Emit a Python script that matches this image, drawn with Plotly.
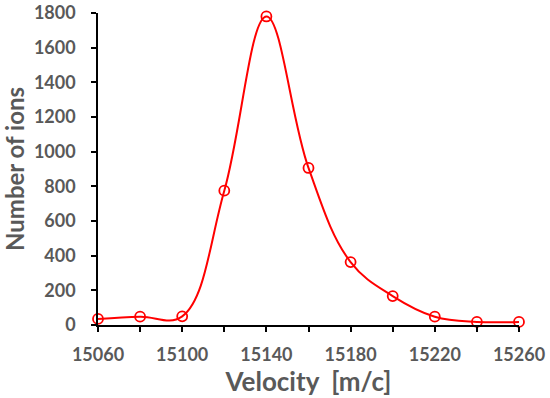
import plotly.graph_objects as go

velocity = [15060, 15080, 15100, 15120, 15140, 15160, 15180, 15200, 15220, 15240, 15260]
ions = [35, 48, 50, 775, 1780, 906, 363, 167, 48, 18, 18]

x_tickvals = list(range(15060, 15261, 20))
x_ticktext = [str(v) if (v - 15060) % 40 == 0 else "" for v in x_tickvals]
y_tickvals = list(range(0, 1801, 200))

grey = "#595959"
font_family = "Lato, 'Open Sans', sans-serif"

fig = go.Figure()
fig.add_trace(go.Scatter(
    x=velocity, y=ions, mode="lines+markers",
    line=dict(color="#FF0000", width=2, shape="spline", smoothing=1.1),
    marker=dict(symbol="circle-open", size=10, color="#FF0000", line=dict(width=1.8, color="#FF0000")),
    cliponaxis=False,
))

fig.update_layout(
    width=550, height=398,
    margin=dict(l=98, r=31, t=13, b=73),
    paper_bgcolor="white", plot_bgcolor="white",
    showlegend=False,
    font=dict(family=font_family, color=grey),
    xaxis=dict(
        range=[15060, 15260], tickvals=x_tickvals, ticktext=x_ticktext,
        showline=True, linecolor="black", linewidth=1.5,
        ticks="outside", ticklen=5, tickcolor="black", tickwidth=1.5,
        showgrid=False, zeroline=False, automargin=False,
        ticklabelstandoff=8,
        tickfont=dict(size=18, family=font_family, color=grey, weight="bold"),
        title=dict(text="<b>Velocity  [m/c]</b>", font=dict(size=26, color=grey, family=font_family), standoff=4),
    ),
    yaxis=dict(
        range=[0, 1800], tickvals=y_tickvals,
        showline=True, linecolor="black", linewidth=1.5,
        ticks="outside", ticklen=5, tickcolor="black", tickwidth=1.5,
        showgrid=False, zeroline=False, automargin=False,
        ticklabelstandoff=12,
        tickfont=dict(size=18, family=font_family, color=grey, weight="bold"),
        title=dict(text="<b>Number of ions</b>", font=dict(size=24, color=grey, family=font_family), standoff=8),
    ),
)

fig.write_html("out.html", config={"displayModeBar": False},
               post_script="document.body.style.margin='0';")
